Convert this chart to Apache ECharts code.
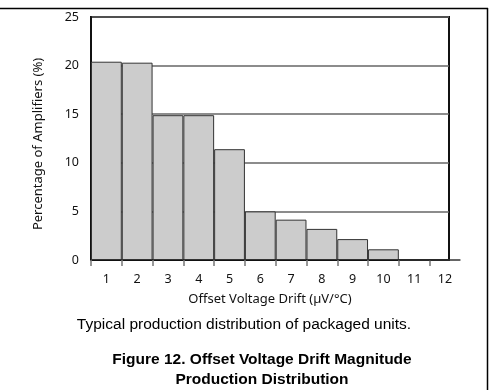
<!DOCTYPE html>
<html>
<head>
<meta charset="utf-8">
<script src="https://cdn.jsdelivr.net/npm/echarts@6/dist/echarts.min.js"></script>
<style>html,body{margin:0;padding:0;background:#fff}#c{width:494px;height:390px}</style>
</head>
<body>
<div id="c"></div>
<script>
const driftBins = [1, 2, 3, 4, 5, 6, 7, 8, 9, 10, 11, 12];
const percentValues = [20.4, 20.3, 14.9, 14.9, 11.4, 5.0, 4.15, 3.2, 2.15, 1.1, 0, 0];
const xTickBoundaries = [0.5, 1.5, 2.5, 3.5, 4.5, 5.5, 6.5, 7.5, 8.5, 9.5, 10.5, 11.5];
const yTicks = [0, 5, 10, 15, 20, 25];
const xAxisTitle = 'Offset Voltage Drift (µV/°C)';
const yAxisTitle = 'Percentage of Amplifiers (%)';
const captionText = 'Typical production distribution of packaged units.';
const figureTitle = 'Figure 12. Offset Voltage Drift Magnitude';
const figureTitle2 = 'Production Distribution';

const chart = echarts.init(document.getElementById('c'), null, {renderer: 'canvas'});
const font = '"Noto Sans", "DejaVu Sans", sans-serif';
const capFont = '"Liberation Sans", Arial, sans-serif';
chart.setOption({
  animation: false,
  backgroundColor: '#fff',
  grid: {left: 91, top: 17, right: 45, bottom: 130, show: true, borderColor: '#111', borderWidth: 2, containLabel: false},
  title: [
    {text: captionText, left: 239, top: 312, textAlign: 'center',
     textStyle: {fontFamily: capFont, fontSize: 15.5, fontWeight: 'normal', color: '#000'}},
    {text: figureTitle, left: 257, top: 347, textAlign: 'center',
     textStyle: {fontFamily: capFont, fontSize: 15.5, fontWeight: 'bold', color: '#000'}},
    {text: figureTitle2, left: 257, top: 367, textAlign: 'center',
     textStyle: {fontFamily: capFont, fontSize: 15.5, fontWeight: 'bold', color: '#000'}}
  ],
  graphic: [
    {type: 'line', shape: {x1: 0, y1: 8.5, x2: 488, y2: 8.5}, style: {stroke: '#000', lineWidth: 1.5}},
    {type: 'line', shape: {x1: 487.5, y1: 8, x2: 487.5, y2: 390}, style: {stroke: '#000', lineWidth: 1.5}}
  ],
  xAxis: {
    type: 'value', min: 0.5, max: 12.13,
    name: xAxisTitle, nameLocation: 'middle', nameGap: 33,
    nameTextStyle: {fontFamily: font, fontSize: 13, color: '#111'},
    axisLine: {show: true, lineStyle: {color: '#111', width: 2}},
    axisTick: {show: true, length: 6, customValues: xTickBoundaries, lineStyle: {color: '#777', width: 1.5}},
    axisLabel: {customValues: driftBins, margin: 13, fontFamily: font, fontSize: 12.5, color: '#111'},
    splitLine: {show: false}
  },
  yAxis: {
    type: 'value', min: 0, max: 25, interval: 5,
    name: yAxisTitle, nameLocation: 'middle', nameGap: 46,
    nameTextStyle: {fontFamily: font, fontSize: 13, color: '#111', padding: [0, 11, 0, 0]},
    axisLine: {show: true, lineStyle: {color: '#111', width: 2}},
    axisTick: {show: false},
    axisLabel: {customValues: yTicks, margin: 12, fontFamily: font, fontSize: 12.5, color: '#111'},
    splitLine: {show: true, lineStyle: {color: '#666', width: 1.5}}
  },
  series: [{
    type: 'bar',
    barWidth: '100%',
    data: driftBins.map((b, i) => [b, percentValues[i]]),
    itemStyle: {color: '#cccccc', borderColor: '#333', borderWidth: 1},
    z: 3
  }]
});
</script>
</body>
</html>
